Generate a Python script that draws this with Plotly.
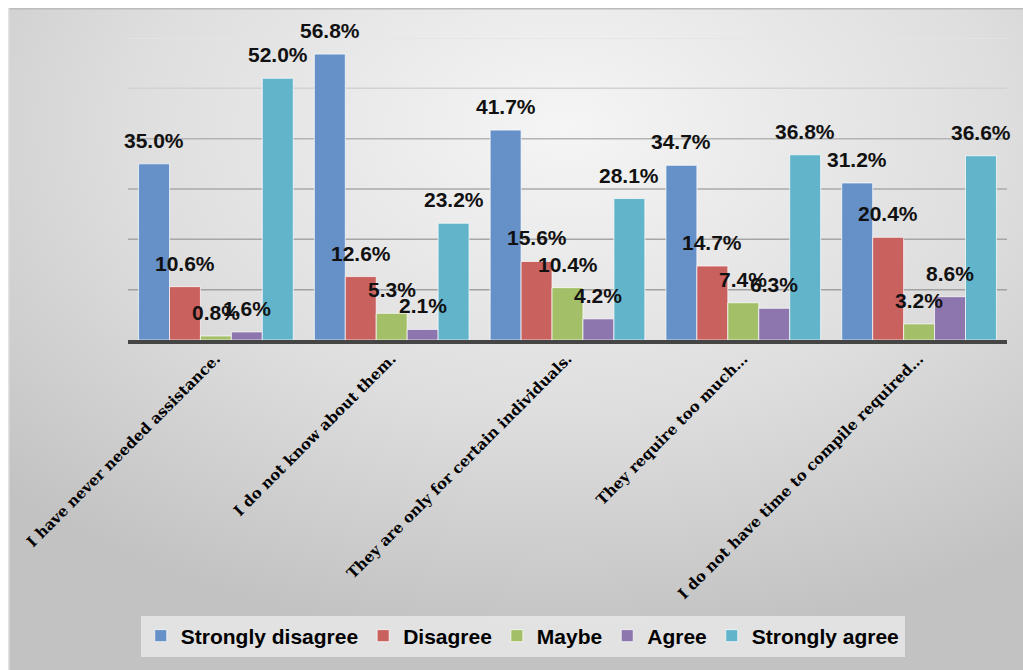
import base64
import plotly.graph_objects as go

# Survey responses: reasons for not using assistance programmes (% of respondents)
categories = [
    "I have never needed assistance.",
    "I do not know about them.",
    "They are only for certain individuals.",
    "They require too much…",
    "I do not have time to compile required…",
]
series_names = ["Strongly disagree", "Disagree", "Maybe", "Agree", "Strongly agree"]
strongly_disagree = [35.0, 56.8, 41.7, 34.7, 31.2]
disagree = [10.6, 12.6, 15.6, 14.7, 20.4]
maybe = [0.8, 5.3, 10.4, 7.4, 3.2]
agree = [1.6, 2.1, 4.2, 6.3, 8.6]
strongly_agree = [52.0, 23.2, 28.1, 36.8, 36.6]
series_values = [strongly_disagree, disagree, maybe, agree, strongly_agree]

colors = ["#6590c8", "#c9625f", "#a3c069", "#8c76ad", "#62b4cb"]
grid_levels = [10, 20, 30, 40, 50, 60]
grid_colors = ["#a2a2a2", "#a6a6a6", "#aaaaaa", "#b4b4b4", "#d2d2d2", "#e4e4e4"]

W, H = 1023, 670
ML, MR, MT, MB = 128, 16, 38, 330
plot_w = W - ML - MR
plot_h = H - MT - MB

n_series = len(series_names)
bargap = 0.12
bar_w = (1 - bargap) / n_series

fig = go.Figure()
annotations = []
for j, (name, vals, col) in enumerate(zip(series_names, series_values, colors)):
    offset = (j - (n_series - 1) / 2) * bar_w
    xs = [i + offset for i in range(len(categories))]
    fig.add_trace(go.Bar(
        x=xs, y=vals, width=bar_w, name=name,
        marker=dict(color=col, line=dict(color="rgba(255,255,255,0.7)", width=1)),
        hoverinfo="skip",
    ))
    for x, v in zip(xs, vals):
        annotations.append(dict(
            x=x, y=v, xref="x", yref="y", text=f"<b>{v:.1f}%</b>", showarrow=False,
            yanchor="bottom", xanchor="center", yshift=10,
            font=dict(family="Liberation Sans, Arial", size=21, color="#111111"),
        ))

# Soft grey radial background panel
pw, ph = W - 8, H - 8
svg = f'''<svg xmlns="http://www.w3.org/2000/svg" width="{pw}" height="{ph}" viewBox="0 0 {pw} {ph}" preserveAspectRatio="none">
<defs><radialGradient id="g" cx="0.55" cy="0.18" r="0.78" fx="0.55" fy="0.18">
<stop offset="0" stop-color="#f5f5f5"/><stop offset="0.55" stop-color="#dedede"/><stop offset="1" stop-color="#c2c2c2"/>
</radialGradient></defs>
<rect x="0" y="0" width="{pw}" height="{ph}" fill="url(#g)"/>
<line x1="0" y1="0.75" x2="{pw}" y2="0.75" stroke="#bcbcbc" stroke-width="1.5"/>
<line x1="0.75" y1="0" x2="0.75" y2="{ph}" stroke="#e2e2e2" stroke-width="1.5"/>
</svg>'''
src = "data:image/svg+xml;base64," + base64.b64encode(svg.encode()).decode()

shapes = [
    dict(type="line", xref="paper", yref="y", x0=0, x1=1, y0=lv, y1=lv,
         line=dict(color=gc, width=1.5), layer="below")
    for lv, gc in zip(grid_levels, grid_colors)
]

fig.update_layout(
    width=W, height=H,
    margin=dict(l=ML, r=MR, t=MT, b=MB, autoexpand=False),
    paper_bgcolor="white",
    plot_bgcolor="rgba(0,0,0,0)",
    barmode="overlay",
    showlegend=True,
    images=[dict(
        source=src, xref="paper", yref="paper",
        x=(8 - ML) / plot_w, y=(H - MB - 8) / plot_h,
        sizex=pw / plot_w, sizey=ph / plot_h,
        xanchor="left", yanchor="top", sizing="stretch", layer="below",
    )],
    shapes=shapes,
    annotations=annotations,
    xaxis=dict(
        range=[-0.5, len(categories) - 0.5],
        tickmode="array", tickvals=list(range(len(categories))),
        ticktext=[f"<b>{c}</b>" for c in categories],
        tickangle=-45, ticks="", showgrid=False, zeroline=False,
        showline=True, linecolor="#454545", linewidth=4,
        tickfont=dict(family="DejaVu Serif", size=15, color="#000000"),
    ),
    yaxis=dict(range=[0, 60], showticklabels=False, showgrid=False, zeroline=False, ticks=""),
    legend=dict(
        orientation="h", xref="container", yref="container",
        x=0.511, y=(H - 636) / H, xanchor="center", yanchor="middle",
        bgcolor="rgba(236,236,236,0.75)", borderwidth=0,
        font=dict(family="Liberation Sans, Arial", size=21, color="#000000"),
        itemclick=False, itemdoubleclick=False,
    ),
)
fig.for_each_trace(lambda t: t.update(name=f"<b>{t.name}</b>"))

fig.write_html("out.html")
